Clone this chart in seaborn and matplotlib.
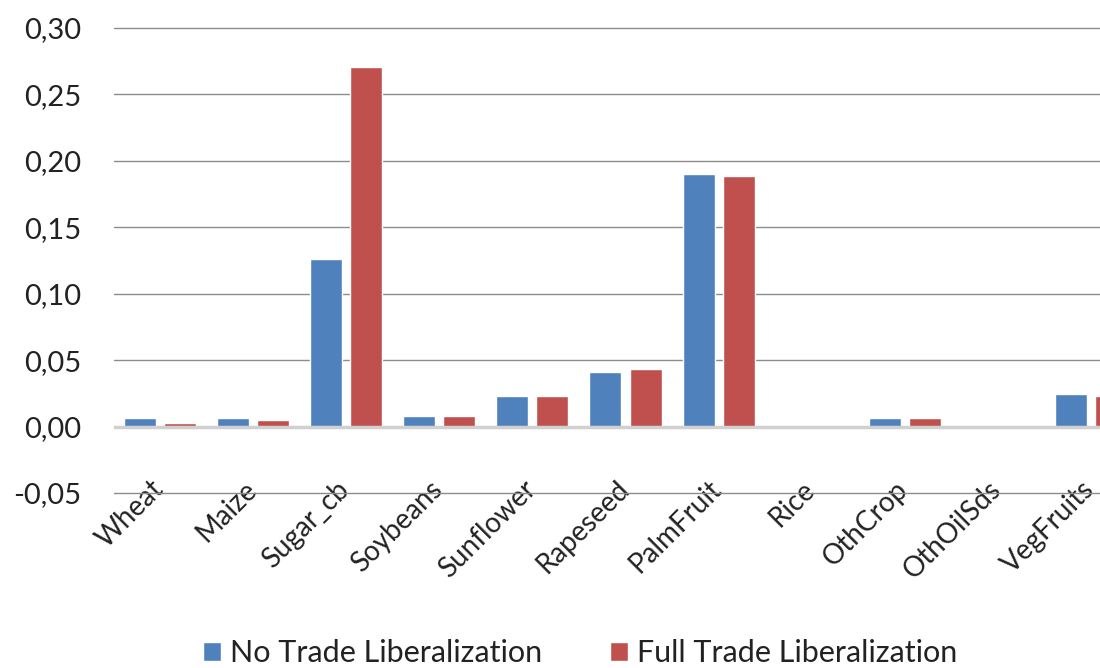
import matplotlib
matplotlib.use("Agg")
import matplotlib.pyplot as plt
import seaborn as sns
import pandas as pd
from matplotlib.ticker import FuncFormatter, MultipleLocator
from matplotlib.patches import Patch

categories = ["Wheat", "Maize", "Sugar_cb", "Soybeans", "Sunflower", "Rapeseed",
              "PalmFruit", "Rice", "OthCrop", "OthOilSds", "VegFruits"]
no_trade = [0.0063, 0.0063, 0.1265, 0.0080, 0.0231, 0.0407, 0.1900, 0.0, 0.0062, 0.0008, 0.0244]
full_trade = [0.0025, 0.0050, 0.2710, 0.0080, 0.0231, 0.0430, 0.1885, 0.0, 0.0062, 0.0008, 0.0230]
series_names = ["No Trade Liberalization", "Full Trade Liberalization"]
colors = ["#4F81BD", "#C0504D"]

df = pd.DataFrame({
    "category": categories * 2,
    "value": no_trade + full_trade,
    "series": [series_names[0]] * len(categories) + [series_names[1]] * len(categories),
})

sns.set_theme(style="white")
plt.rcParams["font.family"] = ["Lato", "DejaVu Sans"]

fig = plt.figure(figsize=(11, 6.68), dpi=100)
ax = fig.add_axes([113.5 / 1100, (668 - 493) / 668, 1024 / 1100, 465 / 668])

sns.barplot(data=df, x="category", y="value", hue="series", palette=colors,
            width=0.86, gap=0.2, ax=ax, legend=False, saturation=1)

ax.set_xlim(-0.5, len(categories) - 0.5)
ax.set_ylim(-0.05, 0.30)
ax.yaxis.set_major_locator(MultipleLocator(0.05))
ax.yaxis.set_major_formatter(FuncFormatter(lambda v, p: f"{v:.2f}".replace(".", ",")))
ax.grid(axis="y", color="#8c8c8c", linewidth=1.0)
for gl in ax.get_ygridlines():
    gl.set_clip_on(False)
ax.set_axisbelow(True)
ax.axhline(0, color="#d0d0d0", linewidth=2.5, zorder=1)
for s in ax.spines.values():
    s.set_visible(False)
ax.set_xlabel("")
ax.set_ylabel("")
ax.tick_params(axis="y", labelsize=21, colors="#222222", pad=23, length=0)
ax.tick_params(axis="x", labelsize=20, colors="#222222", length=0, pad=0)
plt.setp(ax.get_xticklabels(), rotation=45, ha="right", rotation_mode="anchor")
for lbl in ax.get_xticklabels():
    lbl.set_transform(lbl.get_transform() + matplotlib.transforms.ScaledTranslation(-0.10, 0.17, fig.dpi_scale_trans))

handles = [Patch(facecolor=c, label=n) for c, n in zip(colors, series_names)]
fig.legend(handles=handles, loc="center", bbox_to_anchor=(580 / 1100, 1 - 653 / 668),
           ncol=2, frameon=False, fontsize=22, handlelength=0.6, handleheight=0.6,
           columnspacing=2.2, handletextpad=0.3, labelcolor="#222222")

fig.savefig("out.png", dpi=100)
